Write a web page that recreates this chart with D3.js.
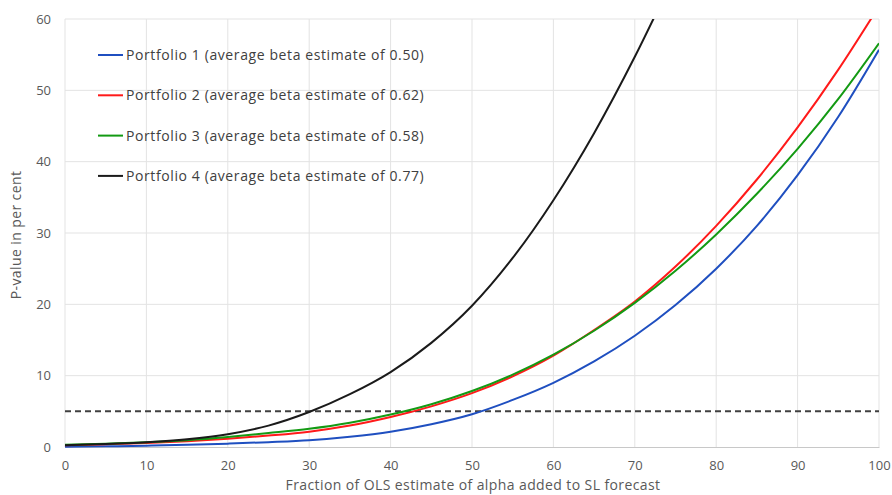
<!DOCTYPE html>
<html>
<head>
<meta charset="utf-8">
<script src="https://cdn.jsdelivr.net/npm/d3@7"></script>
<style>
  body { margin: 0; background: #fff; }
  text { font-family: "Open Sans", sans-serif; }
</style>
</head>
<body>
<svg id="chart"></svg>
<script>
// x values (fraction of OLS alpha, per cent)
const fractions = [0, 5, 10, 15, 20, 25, 30, 35, 40, 45, 50, 55, 60, 65, 70, 75, 80, 85, 90, 95, 100];
const portfolio1 = [0.05, 0.1, 0.18, 0.3, 0.47, 0.68, 0.95, 1.45, 2.15, 3.2, 4.6, 6.6, 9.0, 12.0, 15.6, 19.9, 25.0, 31.0, 38.1, 46.3, 55.7];
const portfolio2 = [0.25, 0.38, 0.55, 0.8, 1.15, 1.6, 2.15, 3.0, 4.2, 5.7, 7.55, 9.9, 12.8, 16.4, 20.4, 25.3, 31.0, 37.5, 44.8, 52.9, 61.8];
const portfolio3 = [0.3, 0.45, 0.65, 0.95, 1.4, 1.95, 2.55, 3.4, 4.55, 6.0, 7.85, 10.15, 12.95, 16.3, 20.2, 24.7, 29.8, 35.5, 41.8, 48.8, 56.6];
// portfolio 4 runs off the top of the chart at about 72
const fractions4 = [0, 5, 10, 15, 20, 25, 30, 35, 40, 45, 50, 55, 60, 65, 70, 75];
const portfolio4 = [0.25, 0.42, 0.68, 1.1, 1.8, 3.0, 4.9, 7.4, 10.5, 14.6, 19.8, 26.5, 34.6, 44.0, 54.7, 66.5];

const seriesNames = [
  'Portfolio 1 (average beta estimate of 0.50)',
  'Portfolio 2 (average beta estimate of 0.62)',
  'Portfolio 3 (average beta estimate of 0.58)',
  'Portfolio 4 (average beta estimate of 0.77)'
];
const seriesColors = ['#1f4fc0', '#ff1a1a', '#139a13', '#1a1a1a'];
const xTicks = [0, 10, 20, 30, 40, 50, 60, 70, 80, 90, 100];
const yTicks = [0, 10, 20, 30, 40, 50, 60];
const threshold = 5;

const width = 892, height = 495;
const margin = { top: 19, right: 13, bottom: 48, left: 65 };
const w = width - margin.left - margin.right;
const h = height - margin.top - margin.bottom;

const series = [
  { x: fractions, y: portfolio1 },
  { x: fractions, y: portfolio2 },
  { x: fractions, y: portfolio3 },
  { x: fractions4, y: portfolio4 }
].map((s, i) => ({
  name: seriesNames[i],
  color: seriesColors[i],
  values: s.x.map((x, j) => ({ x: x, y: s.y[j] }))
}));

const xScale = d3.scaleLinear().domain([0, 100]).range([0, w]);
const yScale = d3.scaleLinear().domain([0, 60]).range([h, 0]);

const svg = d3.select('#chart')
  .attr('width', width)
  .attr('height', height);

svg.append('defs').append('clipPath')
  .attr('id', 'plot-clip')
  .append('rect')
  .attr('x', 0).attr('y', 0)
  .attr('width', w).attr('height', h + 2);

const g = svg.append('g')
  .attr('transform', `translate(${margin.left},${margin.top})`);

// gridlines
g.append('g')
  .selectAll('line')
  .data(yTicks.filter(d => d > 0))
  .join('line')
  .attr('x1', 0).attr('x2', w)
  .attr('y1', d => yScale(d)).attr('y2', d => yScale(d))
  .attr('stroke', '#e3e3e3');

g.append('g')
  .selectAll('line')
  .data(xTicks)
  .join('line')
  .attr('x1', d => xScale(d)).attr('x2', d => xScale(d))
  .attr('y1', 0).attr('y2', h)
  .attr('stroke', '#e3e3e3');

// axes
const xAxis = d3.axisBottom(xScale).tickValues(xTicks).tickSize(0).tickPadding(14);
const yAxis = d3.axisLeft(yScale).tickValues(yTicks).tickSize(0).tickPadding(14);

const xAxisDraw = g.append('g')
  .attr('transform', `translate(0,${h})`)
  .call(xAxis);
xAxisDraw.select('.domain').attr('stroke', '#c8c8c8');

const yAxisDraw = g.append('g').call(yAxis);
yAxisDraw.select('.domain').remove();

g.selectAll('.tick text')
  .attr('fill', '#595959')
  .style('font-size', '13px')
  .style('font-family', '"Open Sans", sans-serif');

// 5 per cent line
g.append('line')
  .attr('x1', 0).attr('x2', w)
  .attr('y1', yScale(threshold)).attr('y2', yScale(threshold))
  .attr('stroke', '#404040')
  .attr('stroke-width', 2)
  .attr('stroke-dasharray', '6,4');

// curves
const line = d3.line()
  .x(d => xScale(d.x))
  .y(d => yScale(d.y))
  .curve(d3.curveMonotoneX);

g.append('g')
  .attr('clip-path', 'url(#plot-clip)')
  .selectAll('path')
  .data(series)
  .join('path')
  .attr('d', d => line(d.values))
  .attr('fill', 'none')
  .attr('stroke', d => d.color)
  .attr('stroke-width', 2);

// legend
const legend = svg.append('g')
  .attr('transform', 'translate(98,55)');
const item = legend.selectAll('g')
  .data(series)
  .join('g')
  .attr('transform', (d, i) => `translate(0,${i * 40.3})`);
item.append('line')
  .attr('x1', 0).attr('x2', 25)
  .attr('stroke', d => d.color)
  .attr('stroke-width', 2);
item.append('text')
  .attr('x', 28)
  .attr('dy', '0.35em')
  .attr('fill', '#404040')
  .style('font-size', '14px')
  .style('letter-spacing', '0.6px')
  .text(d => d.name);

// axis titles
svg.append('text')
  .attr('x', margin.left + w / 2 + 1)
  .attr('y', 490)
  .attr('text-anchor', 'middle')
  .attr('fill', '#595959')
  .style('font-size', '14px')
  .style('letter-spacing', '0.4px')
  .text('Fraction of OLS estimate of alpha added to SL forecast');

svg.append('text')
  .attr('transform', `translate(21,${margin.top + h / 2 + 2}) rotate(-90)`)
  .attr('text-anchor', 'middle')
  .attr('fill', '#595959')
  .style('font-size', '14px')
  .style('letter-spacing', '0.4px')
  .text('P-value in per cent');
</script>
</body>
</html>
